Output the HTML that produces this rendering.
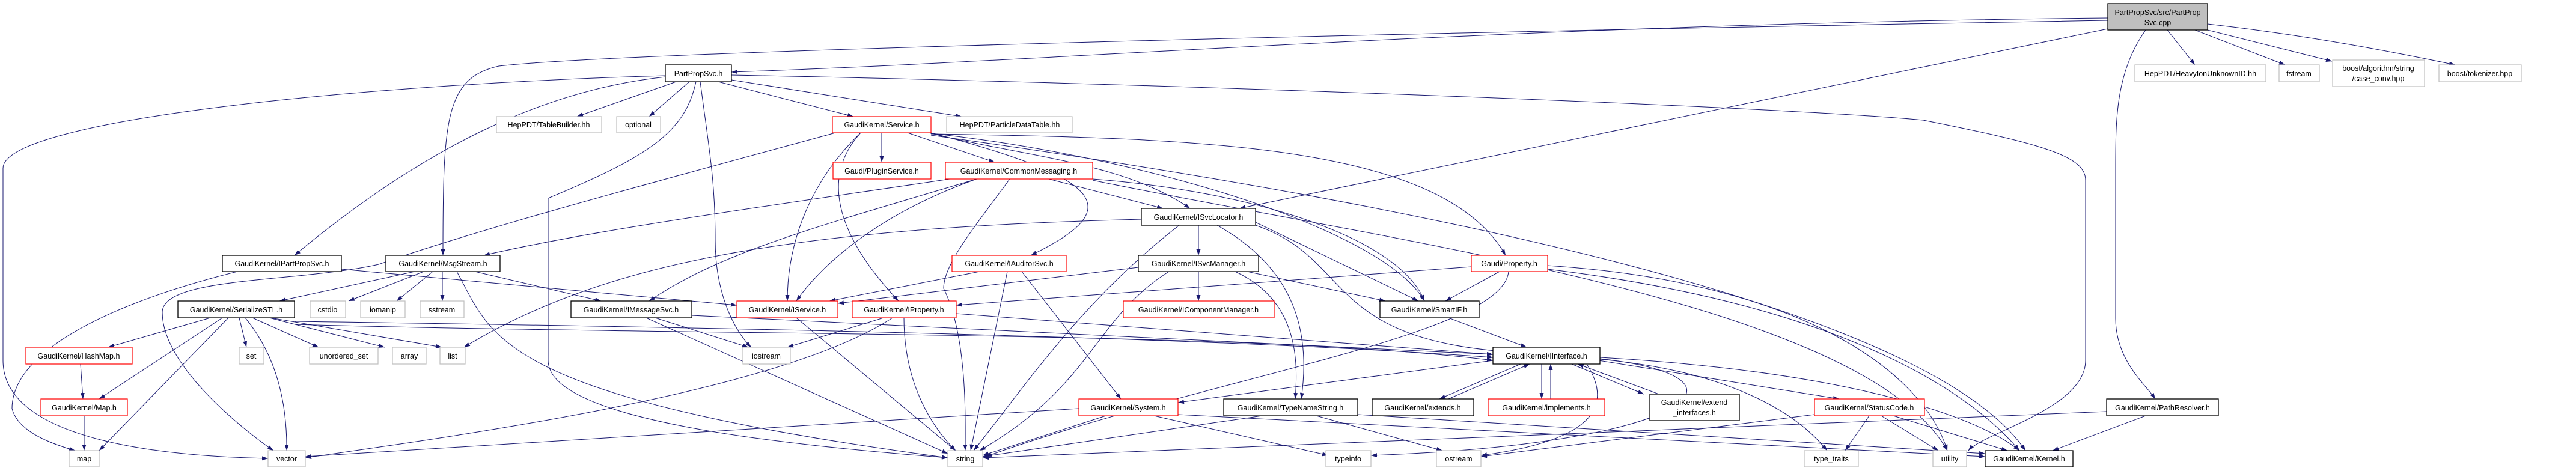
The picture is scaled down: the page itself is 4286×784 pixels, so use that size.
<!DOCTYPE html>
<html><head><meta charset="utf-8"><style>
html,body{margin:0;padding:0;background:#fff}
svg{display:block}
text{font-family:"Liberation Sans",sans-serif;font-size:12.5px;fill:#000;text-anchor:middle}
.b{fill:#fff;stroke:#000;stroke-width:1.3}
.r{fill:#fff;stroke:#ff0000;stroke-width:1.2}
.g{fill:#fff;stroke:#bfbfbf;stroke-width:1.2}
.e{fill:none;stroke:#191970;stroke-width:1}
</style></head><body>
<svg width="4286" height="784" viewBox="0 0 4286 784" xmlns="http://www.w3.org/2000/svg">
<defs><marker id="a" markerWidth="11" markerHeight="8" refX="10" refY="3.5" orient="auto" markerUnits="userSpaceOnUse"><path d="M0,0 L10,3.5 L0,7 z" fill="#191970"/></marker></defs>
<g class="e" marker-end="url(#a)">
<path d="M3507,30 C2500,40 1800,100 1217,120"/>
<path d="M3507,34 C2000,60 1000,90 830,110 C740,130 737,200 737,425"/>
<path d="M3507,48 L2062,347"/>
<path d="M3606,50 L3652,108"/>
<path d="M3652,50 L3802,108"/>
<path d="M3673,50 L3880,102"/>
<path d="M3673,40 C3850,60 4000,90 4085,108"/>
<path d="M3570,50 C3520,120 3520,200 3520,280 L3520,530 C3520,600 3570,640 3586,664"/>
<path d="M1217,125 C2000,140 3000,180 3200,200 C3400,240 3470,260 3470,300 L3470,600 C3470,680 3300,720 3275,750"/>
<path d="M1195,136 L1420,194"/>
<path d="M1217,133 L1600,194"/>
<path d="M1147,136 L1080,194"/>
<path d="M1125,136 L960,194"/>
<path d="M1107,128 C900,150 700,250 490,425"/>
<path d="M1107,126 C600,140 5,200 5,280 L5,600 C5,740 300,760 446,763"/>
<path d="M1165,136 C1180,250 1190,300 1190,400 C1190,500 1230,560 1250,578"/>
<path d="M1158,136 C1140,220 1080,260 912,330 C912,340 912,400 912,600 C912,700 1300,740 1577,762"/>
<path d="M1467,221 L1467,270"/>
<path d="M1510,221 L1655,270"/>
<path d="M1545,221 C1700,260 1870,270 1980,347"/>
<path d="M1549,222 C1900,260 2300,380 2370,501"/>
<path d="M1432,221 C1350,300 1310,400 1310,501"/>
<path d="M1432,221 C1360,300 1400,400 1495,501"/>
<path d="M1549,221 C1850,300 1870,350 1715,425"/>
<path d="M1549,223 C2000,230 2400,240 2505,425"/>
<path d="M1549,225 C2300,330 3200,500 3370,750"/>
<path d="M1390,221 C1100,300 800,380 630,440 C500,470 270,460 270,520 C270,620 440,740 455,750"/>
<path d="M1580,298 C1300,340 1000,380 805,425"/>
<path d="M1625,298 C1350,380 1200,420 1080,501"/>
<path d="M1625,298 C1450,360 1360,450 1325,501"/>
<path d="M1745,298 L1935,347"/>
<path d="M1680,298 C1620,380 1570,440 1570,480 C1610,560 1606,700 1606,750"/>
<path d="M1818,298 C2100,320 2330,400 2370,501"/>
<path d="M1818,300 C2300,400 3100,500 3240,750"/>
<path d="M1994,375 L1994,425"/>
<path d="M2089,370 L2360,501"/>
<path d="M2089,375 C2250,430 2200,560 2500,585"/>
<path d="M2025,375 C2160,450 2180,560 2165,664"/>
<path d="M1962,375 C1800,500 1700,650 1620,750"/>
<path d="M1899,365 C1300,380 1000,440 772,578"/>
<path d="M1994,452 L1994,501"/>
<path d="M1894,445 L1394,505"/>
<path d="M2075,452 L2305,501"/>
<path d="M2055,452 C2160,500 2160,600 2155,664"/>
<path d="M1945,452 C1820,530 1820,640 1630,750"/>
<path d="M1630,452 L1380,501"/>
<path d="M1700,452 L1865,664"/>
<path d="M1676,452 L1615,750"/>
<path d="M2495,452 L2405,501"/>
<path d="M2448,444 L1591,508"/>
<path d="M2510,452 C2500,560 2000,630 1640,760"/>
<path d="M2575,442 C3000,470 3200,620 3240,750"/>
<path d="M2575,448 C3000,500 3250,620 3360,750"/>
<path d="M1591,522 L2484,590"/>
<path d="M1470,529 L1310,578"/>
<path d="M1504,529 C1504,650 1560,720 1590,750"/>
<path d="M1485,529 C1300,650 800,720 508,762"/>
<path d="M1325,529 L1590,750"/>
<path d="M1151,525 L2484,590"/>
<path d="M1090,529 L1245,578"/>
<path d="M1075,529 L1577,755"/>
<path d="M568,448 L1226,508"/>
<path d="M395,452 C200,500 20,580 20,680 C30,720 90,740 125,750"/>
<path d="M690,452 L465,501"/>
<path d="M705,452 L580,501"/>
<path d="M720,452 L660,501"/>
<path d="M736,452 L736,501"/>
<path d="M790,452 L1000,501"/>
<path d="M760,452 C820,560 820,660 1577,762"/>
<path d="M350,529 L180,578"/>
<path d="M370,529 L165,664"/>
<path d="M380,529 L165,750"/>
<path d="M398,529 L410,578"/>
<path d="M420,529 L530,578"/>
<path d="M448,529 L640,578"/>
<path d="M450,529 L735,578"/>
<path d="M408,529 C450,580 478,650 477,750"/>
<path d="M490,535 C1200,545 2000,560 2484,595"/>
<path d="M490,540 C1200,560 2100,550 2484,600"/>
<path d="M134,606 L138,664"/>
<path d="M140,692 L140,750"/>
<path d="M2410,529 L2540,578"/>
<path d="M2530,606 L2395,664"/>
<path d="M2410,664 L2545,606"/>
<path d="M2565,606 L2565,664"/>
<path d="M2580,664 L2580,606"/>
<path d="M2615,606 L2735,656"/>
<path d="M2760,656 L2625,606"/>
<path d="M2484,600 L1960,670"/>
<path d="M2660,600 L3060,664"/>
<path d="M2640,606 C2700,700 2600,740 2464,758"/>
<path d="M2662,598 C2900,620 3000,700 3040,750"/>
<path d="M2662,595 C3100,620 3300,700 3360,750"/>
<path d="M2662,597 C2950,630 2800,740 2281,758"/>
<path d="M1840,692 L1635,758"/>
<path d="M1795,680 L508,760"/>
<path d="M1920,692 L2210,758"/>
<path d="M1960,690 L3303,760"/>
<path d="M2100,692 L1635,760"/>
<path d="M2190,692 L2400,750"/>
<path d="M2259,690 L3303,755"/>
<path d="M3019,690 L2464,760"/>
<path d="M3110,692 L3070,750"/>
<path d="M3130,692 L3225,750"/>
<path d="M3150,692 L3340,750"/>
<path d="M3570,692 L3415,750"/>
<path d="M3505,685 L1635,762"/>
</g>
<rect x="3507" y="6" width="166" height="44" fill="#bfbfbf" stroke="#000" stroke-width="1.3"/>
<text x="3590" y="25">PartPropSvc/src/PartProp</text><text x="3590" y="42">Svc.cpp</text>
<rect class="b" x="1107" y="108" width="110" height="28"/><text x="1162" y="127">PartPropSvc.h</text>
<rect class="g" x="3552" y="108" width="218" height="28"/><text x="3661" y="127">HepPDT/HeavyIonUnknownID.hh</text>
<rect class="g" x="3792" y="108" width="67" height="28"/><text x="3825" y="127">fstream</text>
<rect class="g" x="3881" y="100" width="153" height="44"/><text x="3957" y="118">boost/algorithm/string</text><text x="3957" y="135">/case_conv.hpp</text>
<rect class="g" x="4058" y="108" width="137" height="28"/><text x="4126" y="127">boost/tokenizer.hpp</text>
<rect class="g" x="826" y="194" width="175" height="27"/><text x="913" y="212">HepPDT/TableBuilder.hh</text>
<rect class="g" x="1026" y="194" width="73" height="27"/><text x="1062" y="212">optional</text>
<rect class="r" x="1385" y="194" width="164" height="27"/><text x="1467" y="212">GaudiKernel/Service.h</text>
<rect class="g" x="1575" y="194" width="209" height="27"/><text x="1680" y="212">HepPDT/ParticleDataTable.hh</text>
<rect class="r" x="1386" y="270" width="163" height="28"/><text x="1467" y="289">Gaudi/PluginService.h</text>
<rect class="r" x="1573" y="270" width="245" height="28"/><text x="1695" y="289">GaudiKernel/CommonMessaging.h</text>
<rect class="b" x="1899" y="347" width="190" height="28"/><text x="1994" y="366">GaudiKernel/ISvcLocator.h</text>
<rect class="b" x="370" y="425" width="198" height="27"/><text x="469" y="443">GaudiKernel/IPartPropSvc.h</text>
<rect class="b" x="642" y="425" width="190" height="27"/><text x="737" y="443">GaudiKernel/MsgStream.h</text>
<rect class="r" x="1584" y="425" width="190" height="27"/><text x="1679" y="443">GaudiKernel/IAuditorSvc.h</text>
<rect class="b" x="1894" y="425" width="200" height="27"/><text x="1994" y="443">GaudiKernel/ISvcManager.h</text>
<rect class="r" x="2448" y="425" width="127" height="27"/><text x="2511" y="443">Gaudi/Property.h</text>
<rect class="b" x="296" y="501" width="194" height="28"/><text x="393" y="520">GaudiKernel/SerializeSTL.h</text>
<rect class="g" x="516" y="501" width="59" height="28"/><text x="545" y="520">cstdio</text>
<rect class="g" x="600" y="501" width="74" height="28"/><text x="637" y="520">iomanip</text>
<rect class="g" x="699" y="501" width="73" height="28"/><text x="735" y="520">sstream</text>
<rect class="b" x="950" y="501" width="201" height="28"/><text x="1050" y="520">GaudiKernel/IMessageSvc.h</text>
<rect class="r" x="1226" y="501" width="168" height="28"/><text x="1310" y="520">GaudiKernel/IService.h</text>
<rect class="r" x="1418" y="501" width="173" height="28"/><text x="1504" y="520">GaudiKernel/IProperty.h</text>
<rect class="r" x="1869" y="501" width="251" height="28"/><text x="1994" y="520">GaudiKernel/IComponentManager.h</text>
<rect class="b" x="2296" y="501" width="165" height="28"/><text x="2378" y="520">GaudiKernel/SmartIF.h</text>
<rect class="r" x="43" y="578" width="177" height="28"/><text x="131" y="597">GaudiKernel/HashMap.h</text>
<rect class="g" x="398" y="578" width="41" height="28"/><text x="418" y="597">set</text>
<rect class="g" x="515" y="578" width="114" height="28"/><text x="572" y="597">unordered_set</text>
<rect class="g" x="653" y="578" width="56" height="28"/><text x="681" y="597">array</text>
<rect class="g" x="732" y="578" width="42" height="28"/><text x="753" y="597">list</text>
<rect class="g" x="1236" y="578" width="79" height="28"/><text x="1275" y="597">iostream</text>
<rect class="b" x="2484" y="578" width="178" height="28"/><text x="2573" y="597">GaudiKernel/IInterface.h</text>
<rect class="r" x="68" y="664" width="144" height="28"/><text x="140" y="683">GaudiKernel/Map.h</text>
<rect class="r" x="1795" y="664" width="165" height="28"/><text x="1877" y="683">GaudiKernel/System.h</text>
<rect class="b" x="2036" y="664" width="223" height="28"/><text x="2147" y="683">GaudiKernel/TypeNameString.h</text>
<rect class="b" x="2283" y="664" width="169" height="28"/><text x="2367" y="683">GaudiKernel/extends.h</text>
<rect class="r" x="2476" y="664" width="194" height="28"/><text x="2573" y="683">GaudiKernel/implements.h</text>
<rect class="b" x="2745" y="656" width="149" height="44"/><text x="2819" y="674">GaudiKernel/extend</text><text x="2819" y="691">_interfaces.h</text>
<rect class="r" x="3019" y="664" width="183" height="28"/><text x="3110" y="683">GaudiKernel/StatusCode.h</text>
<rect class="b" x="3505" y="664" width="186" height="28"/><text x="3598" y="683">GaudiKernel/PathResolver.h</text>
<rect class="g" x="115" y="750" width="50" height="27"/><text x="140" y="768">map</text>
<rect class="g" x="446" y="750" width="62" height="27"/><text x="477" y="768">vector</text>
<rect class="g" x="1577" y="750" width="58" height="27"/><text x="1606" y="768">string</text>
<rect class="g" x="2206" y="750" width="75" height="27"/><text x="2243" y="768">typeinfo</text>
<rect class="g" x="2390" y="750" width="74" height="27"/><text x="2427" y="768">ostream</text>
<rect class="g" x="3002" y="750" width="90" height="27"/><text x="3047" y="768">type_traits</text>
<rect class="g" x="3216" y="750" width="56" height="27"/><text x="3244" y="768">utility</text>
<rect class="b" x="3303" y="750" width="146" height="27"/><text x="3376" y="768">GaudiKernel/Kernel.h</text>
</svg>
</body></html>
